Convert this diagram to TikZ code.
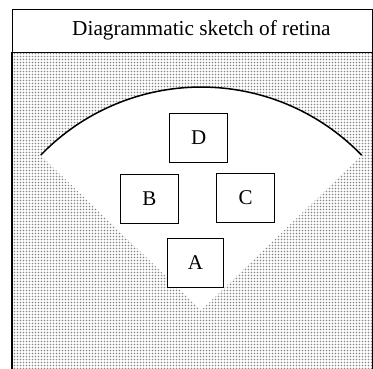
\documentclass[tikz,border=0pt]{standalone}
\usepackage{fontspec}
\setmainfont{Liberation Serif}
\usepackage{tikz}
\usetikzlibrary{patterns, positioning, calc}
\definecolor{DotGray}{RGB}{135, 135, 135}

% fine dot raster for the tissue
\pgfdeclarepatternformonly{retinadots}{\pgfqpoint{-1pt}{-1pt}}{\pgfqpoint{2pt}{2pt}}{\pgfqpoint{3pt}{3pt}}{%
  \pgfpathcircle{\pgfqpoint{0.5pt}{0.5pt}}{0.9pt}\pgfusepath{fill}}

\begin{document}
\begin{tikzpicture}[
            cell/.style={draw=black, line width=1pt, minimum width=2.05cm, minimum height=1.72cm, fill=white, inner sep=0pt, font=\fontsize{21}{24}\selectfont},
            tissue/.style={fill=white, postaction={pattern=retinadots, pattern color=DotGray}}
        ]
        \useasboundingbox (0,0) rectangle (13.11,12.94);
        \clip (0,0) rectangle (13.11,12.94);

        % The frame
        \fill[tissue] (0.42,-0.3) rectangle (13.08,11.11);
        \coordinate (o) at (7.07,2.04);
        \fill[white] (o) -- ++(136:7.84) arc (136:44:7.84) -- cycle;
        \draw[line width=1.5pt] ($(o)+(136:7.84)$) arc (136:44:7.84);

        % Cells
        \node[cell] (d) at (6.98,8.10) {D};
        \node[cell] (b) at (5.25,5.96) {B};
        \node[cell] (c) at (8.63,5.99) {C};
        \node[cell, minimum width=2.0cm] (a) at (6.87,3.71) {A};

        % Header
        \draw[line width=0.8pt] (0.42,11.11) -- (13.08,11.11);
        \draw[line width=0.8pt] (0.42,-0.3) -- (0.42,12.62) -- (13.08,12.62) -- (13.08,-0.3);
        \draw[line width=1.2pt] (0.42,-0.3) -- (0.42,11.11);
        \node[font=\fontsize{21.3}{25}\selectfont] (title) at (7.08,11.86) {Diagrammatic sketch of retina};

\end{tikzpicture}
\end{document}
